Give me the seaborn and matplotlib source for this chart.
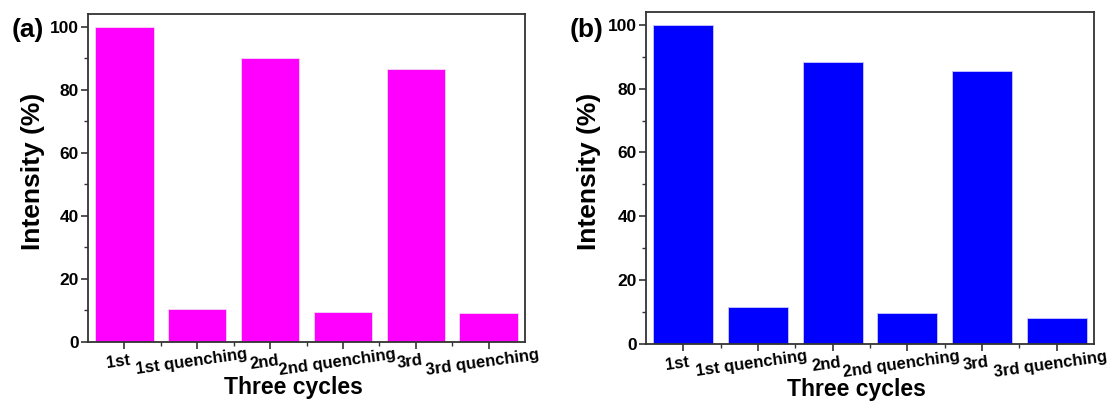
import matplotlib
matplotlib.use("Agg")
import matplotlib.pyplot as plt
from matplotlib.ticker import MultipleLocator, FixedLocator
from matplotlib.transforms import ScaledTranslation
import seaborn as sns
import pandas as pd

# Cycle steps and relative intensities for both samples
categories = ["1st", "1st quenching", "2nd", "2nd quenching", "3rd", "3rd quenching"]
intensity_a = [100.0, 10.6, 90.2, 9.6, 86.5, 9.2]
intensity_b = [100.0, 11.7, 88.2, 9.6, 85.4, 8.1]
panel_labels = ["(a)", "(b)"]
bar_colors = ["#FF00FF", "#0000FF"]
y_ticks = [0, 20, 40, 60, 80, 100]

sns.set_style("ticks")
plt.rcParams["font.family"] = ["Liberation Sans", "DejaVu Sans"]
plt.rcParams["font.weight"] = "bold"
plt.rcParams["axes.labelweight"] = "bold"
plt.rcParams["text.color"] = "black"
plt.rcParams["axes.labelcolor"] = "black"
plt.rcParams["xtick.color"] = "black"
plt.rcParams["ytick.color"] = "black"

fig = plt.figure(figsize=(11.07, 4.03), dpi=100)
axes_rects = [
    [88 / 1107, 61 / 403, 437 / 1107, 328 / 403],
    [646 / 1107, 59 / 403, 448 / 1107, 332 / 403],
]
label_pos = [(28 / 1107, 1 - 30 / 403), (587 / 1107, 1 - 30 / 403)]

for rect, values, color, plabel, lpos in zip(
    axes_rects, [intensity_a, intensity_b], bar_colors, panel_labels, label_pos
):
    ax = fig.add_axes(rect)
    df = pd.DataFrame({"step": categories, "value": values})
    sns.barplot(data=df, x="step", y="value", color=color, saturation=1,
                width=0.8, ax=ax, edgecolor="#f4d8f4" if color == "#FF00FF" else "#c8c8ff",
                linewidth=0.6)
    ax.set_xlim(-0.5, len(categories) - 0.5)
    ax.set_ylim(0, 104)
    ax.set_yticks(y_ticks)
    ax.yaxis.set_minor_locator(MultipleLocator(10))
    ax.xaxis.set_minor_locator(FixedLocator([i + 0.5 for i in range(len(categories) - 1)]))

    for side in ["top", "right", "left", "bottom"]:
        ax.spines[side].set_visible(True)
        ax.spines[side].set_linewidth(1.3)
        ax.spines[side].set_color("#333333")

    ax.tick_params(axis="both", which="major", direction="out", length=5, width=1.2,
                   color="#333333", labelsize=12.5, labelcolor="black")
    ax.tick_params(axis="both", which="minor", direction="out", length=3, width=1.0,
                   color="#333333")
    ax.tick_params(axis="x", which="major", pad=2)
    ax.tick_params(axis="y", which="major", pad=1.5)

    ax.set_xticks(range(len(categories)))
    ax.set_xticklabels(categories, rotation=8, ha="center", fontsize=12, fontweight="bold",
                       rotation_mode="anchor", va="top")
    shift = ScaledTranslation(-7 / 100, -3 / 100, fig.dpi_scale_trans)
    for lbl in ax.get_xticklabels():
        lbl.set_transform(lbl.get_transform() + shift)
    for lbl in ax.get_yticklabels():
        lbl.set_fontweight("bold")

    ax.set_ylabel("Intensity (%)", fontsize=19, fontweight="bold")
    ax.set_xlabel("Three cycles", fontsize=16.5, fontweight="bold")
    ax.yaxis.set_label_coords(-0.127, 0.52)
    ax.xaxis.set_label_coords(0.47, -0.138)
    ax.xaxis.label.set_verticalalignment("center")
    ax.yaxis.label.set_verticalalignment("center")

    fig.text(lpos[0], lpos[1], plabel, fontsize=19, fontweight="bold",
             ha="center", va="center")

fig.savefig("out.png", dpi=100)
